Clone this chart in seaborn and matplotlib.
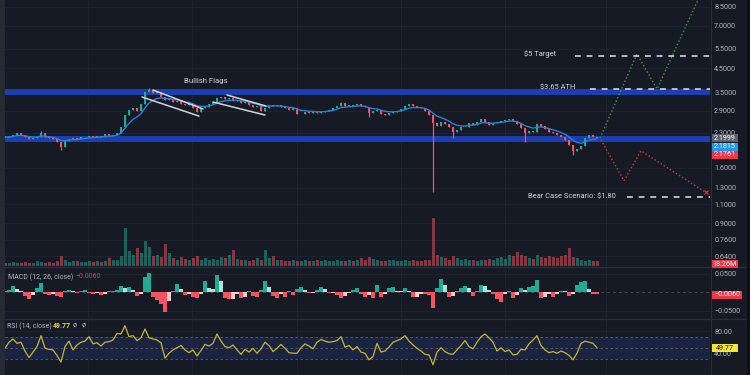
import numpy as np
import pandas as pd
import matplotlib
matplotlib.use("Agg")
import matplotlib.pyplot as plt
from matplotlib.patches import Rectangle
from matplotlib.lines import Line2D
from matplotlib.ticker import NullLocator
import seaborn as sns

# ---------------- data ----------------
close = [
    2.20, 2.23, 2.25, 2.30, 2.25, 2.20, 2.16, 2.18, 2.20, 2.30,
    2.20, 2.18, 2.16, 2.09, 1.99, 2.11, 2.16, 2.18, 2.16, 2.20,
    2.21, 2.23, 2.20, 2.23, 2.21, 2.27, 2.23, 2.25, 2.30, 2.44,
    2.77, 2.92, 2.98, 2.89, 3.11, 3.51, 3.59, 3.48, 3.51, 3.34,
    3.24, 3.27, 3.17, 3.20, 3.11, 3.07, 3.11, 2.98, 2.86, 2.98,
    3.01, 3.11, 3.17, 3.30, 3.34, 3.27, 3.30, 3.20, 3.24, 3.14,
    3.17, 3.07, 3.01, 3.04, 2.89, 2.98, 3.07, 3.04, 3.07, 3.01,
    2.98, 2.92, 2.98, 2.80, 2.81, 2.86, 2.83, 2.86, 2.83, 2.86,
    2.89, 2.92, 2.98, 3.04, 3.14, 3.04, 3.07, 3.04, 3.11, 3.04,
    3.01, 2.83, 2.89, 2.92, 2.80, 2.77, 2.83, 2.86, 2.89, 2.95,
    3.04, 3.11, 3.04, 3.01, 2.98, 2.89, 2.77, 2.55, 2.47, 2.58,
    2.52, 2.44, 2.32, 2.37, 2.44, 2.45, 2.55, 2.50, 2.58, 2.66,
    2.58, 2.50, 2.55, 2.58, 2.60, 2.63, 2.66, 2.60, 2.52, 2.42,
    2.30, 2.35, 2.32, 2.52, 2.47, 2.39, 2.32, 2.30, 2.25, 2.20,
    2.14, 2.03, 1.90, 1.95, 2.01, 2.18, 2.25, 2.20, 2.1761,
]
first_open = 2.22
wick_high_idx = [9, 36, 84]
wick_high_val = [2.34, 3.67, 3.17]
wick_low_idx = [14, 91, 107, 112, 130, 142]
wick_low_val = [1.93, 2.71, 1.24, 2.18, 2.09, 1.83]

volume_m = [
    10, 12, 14, 10, 12, 15, 12, 10, 18, 14,
    12, 15, 10, 20, 38, 22, 15, 18, 20, 15,
    14, 18, 16, 20, 15, 18, 30, 22, 25, 40,
    150, 60, 45, 70, 50, 100, 75, 40, 45, 35,
    85, 50, 30, 25, 35, 28, 22, 30, 40, 25,
    30, 22, 28, 25, 35, 30, 45, 65, 28, 25,
    22, 20, 25, 30, 22, 65, 30, 40, 22, 25,
    20, 18, 22, 20, 18, 22, 20, 18, 25, 20,
    22, 18, 20, 25, 20, 18, 22, 20, 25, 30,
    22, 35, 28, 22, 20, 18, 25, 22, 20, 18,
    25, 20, 22, 18, 20, 22, 25, 190, 45, 35,
    30, 25, 38, 30, 25, 28, 22, 25, 20, 25,
    22, 28, 25, 30, 35, 28, 45, 40, 55, 45,
    38, 30, 28, 45, 35, 30, 40, 35, 30, 38,
    45, 70, 35, 30, 25, 20, 22, 20, 18.26,
]

macd_hist = [
    0.002, 0.005, 0.016, 0.008, 0.004, -0.010, -0.019, -0.008, 0.012, 0.024,
    -0.004, -0.008, -0.005, -0.010, -0.014, 0.003, 0.005, 0.002, -0.003, 0.004,
    0.005, -0.002, -0.005, -0.003, -0.008, -0.006, 0.002, 0.003, 0.006, 0.016,
    0.010, 0.014, 0.006, -0.011, -0.004, 0.040, 0.051, -0.013, -0.022, -0.032,
    -0.054, -0.025, 0.002, 0.022, 0.008, -0.008, -0.006, -0.012, -0.016, -0.004,
    0.030, 0.010, 0.008, 0.046, 0.030, -0.016, -0.020, -0.018, -0.006, -0.016,
    -0.012, 0.003, -0.010, -0.013, 0.006, 0.030, 0.015, -0.010, -0.016, -0.006,
    -0.012, 0.004, -0.008, 0.008, 0.014, 0.005, -0.003, -0.002, 0.006, 0.014,
    0.008, -0.003, -0.002, -0.008, -0.016, -0.010, -0.002, 0.006, 0.011, -0.006,
    -0.013, -0.008, -0.016, 0.018, -0.012, -0.004, 0.010, 0.014, 0.004, 0.002,
    0.012, 0.004, -0.014, -0.012, -0.004, -0.006, -0.008, -0.043, 0.010, 0.036,
    0.018, -0.012, -0.010, 0.004, 0.012, 0.016, 0.010, -0.010, 0.004, 0.018,
    0.016, 0.006, -0.004, -0.020, -0.026, -0.006, 0.004, -0.016, -0.008, 0.012,
    0.006, 0.014, 0.016, 0.032, -0.016, -0.014, -0.006, -0.012, -0.006, 0.004,
    0.002, -0.010, -0.004, 0.018, 0.026, 0.030, 0.008, -0.004, -0.006,
]

rsi = [
    49, 60, 66, 58, 60, 44, 32, 42, 52, 72,
    49, 47, 46, 36, 24, 52, 62, 46, 55, 60,
    62, 70, 57, 59, 53, 60, 61, 64, 76, 75,
    90, 70, 72, 63, 68, 84, 68, 66, 64, 59,
    31, 40, 46, 50, 54, 46, 41, 46, 35, 45,
    56, 53, 58, 75, 62, 52, 50, 55, 46, 38,
    47, 42, 49, 40, 48, 60, 54, 43, 49, 56,
    49, 41, 40, 40, 50, 57, 53, 48, 60, 65,
    62, 60, 61, 63, 70, 51, 54, 46, 52, 42,
    40, 28, 34, 58, 42, 44, 51, 60, 63, 66,
    72, 62, 55, 49, 44, 38, 37, 19, 42, 50,
    43, 39, 38, 46, 54, 63, 52, 48, 60, 70,
    75, 68, 60, 44, 50, 43, 46, 37, 38, 47,
    46, 57, 64, 72, 54, 46, 41, 43, 40, 44,
    41, 36, 28, 40, 58, 62, 60, 58, 49.77,
]

price_ticks = [8.5, 7.0, 5.5, 4.5, 3.5, 2.9, 2.3, 1.6, 1.3, 1.1, 0.9, 0.76, 0.64]
macd_ticks = [0.05, -0.05]
rsi_ticks = [80, 40]
rsi_bands = [70, 50, 30]

zone_upper = (3.40, 3.63)
zone_lower = (2.09, 2.23)
target_level, ath_level, bear_level = 5.11, 3.63, 1.18

# annotation paths (candle-index units, price)
bull_path_x = [148.75, 158.0, 163.0, 173.75]
bull_path_y = [2.18, 5.22, 3.63, 9.57]
bear_path_x = [149.0, 154.75, 159.0, 175.25]
bear_path_y = [2.14, 1.40, 1.91, 1.24]
flag_lines = [
    ([37.0, 49.5], [3.59, 2.95]),
    ([34.25, 48.5], [3.34, 2.74]),
    ([55.5, 65.25], [3.41, 3.04]),
    ([52.0, 65.0], [3.17, 2.77]),
]
date_grid = [20.75, 46.75, 73.0, 99.0, 125.0, 150.25]

# ---------------- style ----------------
BG = "#161a25"
GRID = "#1f2330"
TXT = "#b2b5be"
UP, DN = "#22ab94", "#f7525f"

sns.set_theme(style="dark", rc={"axes.facecolor": BG, "figure.facecolor": BG})
plt.rcParams["font.family"] = ["Roboto", "DejaVu Sans"]

W, H = 750, 375
def fx(px): return px / W
def fy(py): return 1 - py / H

fig = plt.figure(figsize=(7.5, 3.75), dpi=100)
fig.patch.set_facecolor(BG)

ax = fig.add_axes([0, fy(266), fx(710), 266 / H])
axm = fig.add_axes([0, fy(318), fx(710), 50 / H])
axr = fig.add_axes([0, 0, fx(710), 55 / H])

n = len(close)
idx = np.arange(n)
c = np.array(close, dtype=float)
o = np.r_[first_open, c[:-1]]
hi = np.maximum(o, c)
lo = np.minimum(o, c)
for i, v in zip(wick_high_idx, wick_high_val):
    hi[i] = max(hi[i], v)
for i, v in zip(wick_low_idx, wick_low_val):
    lo[i] = min(lo[i], v)
up = c >= o
ccol = [UP if u else DN for u in up]

XL = (-1.25, 176.25)

# volume overlay (created first so the price axis keeps its right-hand scale)
axv = ax.twinx()

for a in (ax, axm, axr):
    a.set_facecolor(BG)
    a.set_xlim(*XL)
    for s in a.spines.values():
        s.set_visible(False)
    a.set_xticks(date_grid)
    a.tick_params(axis="x", length=0, labelbottom=False)
    a.yaxis.tick_right()
    a.yaxis.set_label_position("right")
    a.tick_params(axis="y", which="both", left=False, labelleft=False, right=True,
                  labelright=True, length=0, pad=3, labelsize=5.2, labelcolor=TXT)
    a.grid(True, color=GRID, lw=0.7)
    a.set_axisbelow(True)

# ---- main price panel ----
ax.set_yscale("log")
ax.set_ylim(0.578, 9.14)
ax.yaxis.set_minor_locator(NullLocator())
ax.set_yticks(price_ticks)
ax.set_yticklabels([f"{t:.4f}" for t in price_ticks])

ax.axhspan(*zone_upper, color="#1b3fb0", zorder=1.5, lw=0)
ax.axhspan(*zone_lower, color="#1b3fb0", zorder=1.5, lw=0)

ax.vlines(idx, lo, hi, colors=ccol, lw=0.9, zorder=3)
body_h = np.maximum(np.abs(c - o), 0.006)
ax.bar(idx, body_h, bottom=np.minimum(o, c), width=0.7, color=ccol, lw=0, zorder=4)

ma = pd.Series(c).ewm(span=7, adjust=False).mean()
sns.lineplot(x=idx, y=ma.values, ax=ax, color="#2b7fd4", lw=1.0, zorder=5)

axv.set_xlim(*XL)
axv.set_ylim(0, 1050)
axv.bar(idx, volume_m, width=0.75, color=ccol, alpha=0.5, lw=0)
axv.axis("off")

# flags
for xs, ys in flag_lines:
    ax.plot(xs, ys, color="#d1d4dc", lw=1.1, zorder=6)
ax.text(50.25, 3.94, "Bullish Flags", color="#d1d4dc", fontsize=5.6, ha="center", va="center", zorder=7)

# projections
ax.plot(bull_path_x, bull_path_y, color="#3f9c4a", lw=1.0, ls=(0, (1, 1.6)), zorder=6)
ax.plot(bear_path_x, bear_path_y, color="#d33b3b", lw=1.0, ls=(0, (1, 1.6)), zorder=6)
ax.plot([bear_path_x[-1]], [bear_path_y[-1]], marker="x", ms=3.5, mew=0.8, color="#d33b3b", zorder=6)

dash = (0, (3.5, 3.5))
ax.hlines(target_level, 142.5, 176.25, colors="#d1d4dc", linestyles=[dash], lw=1.2, zorder=6)
ax.hlines(ath_level, 146.25, 176.25, colors="#d1d4dc", linestyles=[dash], lw=1.2, zorder=6)
ax.hlines(bear_level, 155.5, 176.25, colors="#d1d4dc", linestyles=[dash], lw=1.2, zorder=6)
ax.text(137.75, 5.22, "$5 Target", color="#d1d4dc", fontsize=5.4, ha="right", va="center", zorder=7)
ax.text(142.5, 3.67, "$3.65 ATH", color="#d1d4dc", fontsize=5.4, ha="right", va="center", zorder=7)
ax.text(152.75, 1.19, "Bear Case Scenario: $1.80", color="#d1d4dc", fontsize=5.4, ha="right", va="center", zorder=7)

# ---- MACD panel ----
h = np.array(macd_hist)
prev = np.r_[0.0, h[:-1]]
mcol = []
for v, p in zip(h, prev):
    if v >= 0:
        mcol.append("#22ab94" if v >= p else "#ace5dc")
    else:
        mcol.append("#f7525f" if v < p else "#fccbcd")
axm.set_ylim(-0.070, 0.065)
axm.bar(idx, h, width=0.9, color=mcol, lw=0, zorder=3)
axm.axhline(0, color="#434651", lw=0.7, ls=(0, (3, 3)), zorder=2)
axm.set_yticks(macd_ticks)
axm.set_yticklabels(["0.0500", "\u22120.0500"])

# ---- RSI panel ----
axr.set_ylim(0.4, 100.4)
axr.axhspan(rsi_bands[2], rsi_bands[0], color="#1a2340", lw=0, zorder=1)
for lvl in rsi_bands:
    axr.axhline(lvl, color="#5d606b", lw=0.6, ls=(0, (3, 3)), zorder=2)
sns.lineplot(x=idx, y=np.array(rsi, dtype=float), ax=axr, color="#c8b630", lw=0.9, zorder=4)
axr.set_yticks(rsi_ticks)
axr.set_yticklabels([f"{t:.2f}" for t in rsi_ticks])
for a in (ax, axm, axr):
    a.set_xlabel("")
    a.set_ylabel("")

# ---- panel chrome ----
for yy in (267, 319):
    fig.add_artist(Line2D([0, 1], [fy(yy), fy(yy)], color="#2a2e39", lw=1.0, transform=fig.transFigure))
fig.add_artist(Line2D([fx(710.5), fx(710.5)], [0, 1], color="#2a2e39", lw=0.8, transform=fig.transFigure))
fig.add_artist(Rectangle((0, 0), fx(5), 1, transform=fig.transFigure, color="#262a33", lw=0, zorder=10))
fig.add_artist(Rectangle((fx(747), 0), fx(3), 1, transform=fig.transFigure, color="#0e1016", lw=0, zorder=10))

# indicator titles
fig.text(fx(8), fy(277), "MACD (12, 26, close)", color=TXT, fontsize=5.0, ha="left", va="center")
fig.text(fx(75), fy(277), "\u22120.0060", color="#f23645", fontsize=5.0, ha="left", va="center")
fig.text(fx(7), fy(326), "RSI (14, close)", color=TXT, fontsize=5.0, ha="left", va="center")
fig.text(fx(53), fy(326), "49.77", color="#e3d33c", fontsize=5.0, ha="left", va="center", weight="bold")
fig.text(fx(73), fy(326), "\u00f8", color=TXT, fontsize=5.0, ha="left", va="center")
fig.text(fx(82), fy(326), "\u00f8", color=TXT, fontsize=5.0, ha="left", va="center")

# last-value boxes on the scale
def label_box(yc, text, fc, tc="white", x0=712, w=26, hgt=8):
    fig.add_artist(Rectangle((fx(x0), fy(yc + hgt / 2)), w / W, hgt / H,
                             transform=fig.transFigure, color=fc, lw=0, zorder=20))
    fig.text(fx(x0 + w / 2), fy(yc), text, color=tc, fontsize=5.2, ha="center", va="center", zorder=21)

label_box(138, "2.1999", "#5d606b")
label_box(146.5, "2.1815", "#2196f3")
label_box(155, "2.1761", "#f23645")
label_box(264, "18.26M", "#f23645")
label_box(294.5, "\u22120.0060", "#f23645", w=30)
label_box(348, "49.77", "#f5e53b", tc="#131722")

fig.savefig("out.png", dpi=100, facecolor=BG)
